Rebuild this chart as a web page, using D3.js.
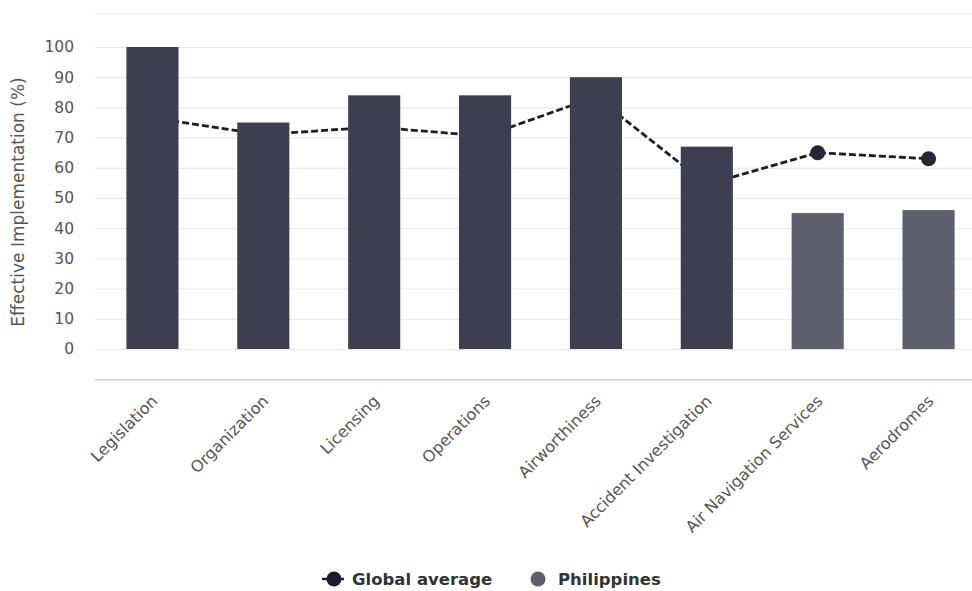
<!DOCTYPE html>
<html>
<head>
<meta charset="utf-8">
<script src="https://cdn.jsdelivr.net/npm/d3@7"></script>
<style>
  body { margin: 0; background: #fff; }
  svg text { font-family: "DejaVu Sans", "Open Sans", sans-serif; }
</style>
</head>
<body>
<div id="chart"></div>
<script>
// ---------- DATA ----------
var categories = ['Legislation', 'Organization', 'Licensing', 'Operations', 'Airworthiness',
                  'Accident Investigation', 'Air Navigation Services', 'Aerodromes'];
var philippines = [100, 75, 84, 84, 90, 67, 45, 46];
var globalAvg = [76.5, 71, 73.5, 70.5, 83.5, 54.5, 65, 63];
var yTicks = [0, 10, 20, 30, 40, 50, 60, 70, 80, 90, 100];
var seriesNames = ['Global average', 'Philippines'];

// ---------- PAGE ----------
var W = 972, H = 591;

var svg = d3.select('#chart').append('svg')
    .attr('width', W)
    .attr('height', H);

var x = d3.scaleBand()
    .domain(categories)
    .range([97, 984])
    .paddingInner(0.53)
    .paddingOuter(0.265);

var y = d3.scaleLinear()
    .domain([0, 100])
    .range([349, 47]);

// grid
var grid = svg.append('g');
grid.selectAll('line.g')
    .data(yTicks)
    .enter()
    .append('line')
        .attr('x1', 95).attr('x2', W)
        .attr('y1', function(d){ return y(d) + 0.5 })
        .attr('y2', function(d){ return y(d) + 0.5 })
        .attr('stroke', '#e6e6e6')
        .attr('stroke-width', 1);

// top border line and x axis line
grid.append('line')
    .attr('x1', 95).attr('x2', W)
    .attr('y1', 13.5).attr('y2', 13.5)
    .attr('stroke', '#e6e6e6');
grid.append('line')
    .attr('x1', 95).attr('x2', W)
    .attr('y1', y(-10) + 0.5).attr('y2', y(-10) + 0.5)
    .attr('stroke', '#d0d0d0')
    .attr('stroke-width', 1.5);

// y axis labels
var yAxis = d3.axisLeft(y).tickValues(yTicks).tickSize(0).tickPadding(0);
var yg = svg.append('g')
    .attr('transform', 'translate(74,0)')
    .call(yAxis);
yg.select('.domain').remove();
yg.selectAll('text')
    .attr('fill', '#555')
    .style('font-family', '"DejaVu Sans", sans-serif')
    .style('font-size', '15.5px');

svg.append('text')
    .attr('transform', 'translate(24,' + (y(50) + 4) + ') rotate(-90)')
    .attr('text-anchor', 'middle')
    .attr('fill', '#555')
    .style('font-size', '17px')
    .text('Effective Implementation (%)');

// x axis labels
var xAxis = d3.axisBottom(x).tickSize(0).tickPadding(0);
var xg = svg.append('g')
    .attr('transform', 'translate(0,402)')
    .call(xAxis);
xg.select('.domain').remove();
xg.selectAll('text')
    .attr('fill', '#555')
    .style('font-family', '"DejaVu Sans", sans-serif')
    .style('font-size', '16px')
    .attr('text-anchor', 'end')
    .attr('dy', '0')
    .attr('transform', 'translate(6,0) rotate(-45)');

// global average line (drawn behind bars)
var line = d3.line()
    .x(function(d,i){ return x(categories[i]) + x.bandwidth()/2 })
    .y(function(d){ return y(d) });

svg.append('path')
    .datum(globalAvg)
    .attr('d', line)
    .attr('fill', 'none')
    .attr('stroke', '#1c1c2a')
    .attr('stroke-width', 2.8)
    .attr('stroke-dasharray', '7,3');

svg.selectAll('circle.avg')
    .data(globalAvg)
    .enter()
    .append('circle')
        .attr('class', 'avg')
        .attr('cx', function(d,i){ return x(categories[i]) + x.bandwidth()/2 })
        .attr('cy', function(d){ return y(d) })
        .attr('r', 7.5)
        .attr('fill', '#262636');

// bars
svg.selectAll('rect.bar')
    .data(philippines)
    .enter()
    .append('rect')
        .attr('class', 'bar')
        .attr('x', function(d,i){ return x(categories[i]) })
        .attr('y', function(d){ return y(d) })
        .attr('width', x.bandwidth())
        .attr('height', function(d){ return y(0) - y(d) })
        .attr('fill', function(d,i){
            var c;
            if (d < globalAvg[i]){
                c = '#5e5e6d'
            } else {
                c = '#3e3e50'
            }
            return c
        });

// legend
var leg = svg.append('g').attr('transform', 'translate(0,579)');
leg.append('line')
    .attr('x1', 322).attr('x2', 344)
    .attr('y1', 0).attr('y2', 0)
    .attr('stroke', '#1c1c2a').attr('stroke-width', 2.5);
leg.append('circle')
    .attr('cx', 334).attr('cy', 0).attr('r', 7.5)
    .attr('fill', '#1c1c2a');
leg.append('text')
    .attr('x', 352).attr('y', 5.5)
    .attr('fill', '#333')
    .style('font-size', '16.5px')
    .style('font-weight', 'bold')
    .text(seriesNames[0]);
leg.append('circle')
    .attr('cx', 538).attr('cy', 0).attr('r', 7.5)
    .attr('fill', '#5e5e6d');
leg.append('text')
    .attr('x', 558).attr('y', 5.5)
    .attr('fill', '#333')
    .style('font-size', '16.5px')
    .style('font-weight', 'bold')
    .text(seriesNames[1]);
</script>
</body>
</html>
